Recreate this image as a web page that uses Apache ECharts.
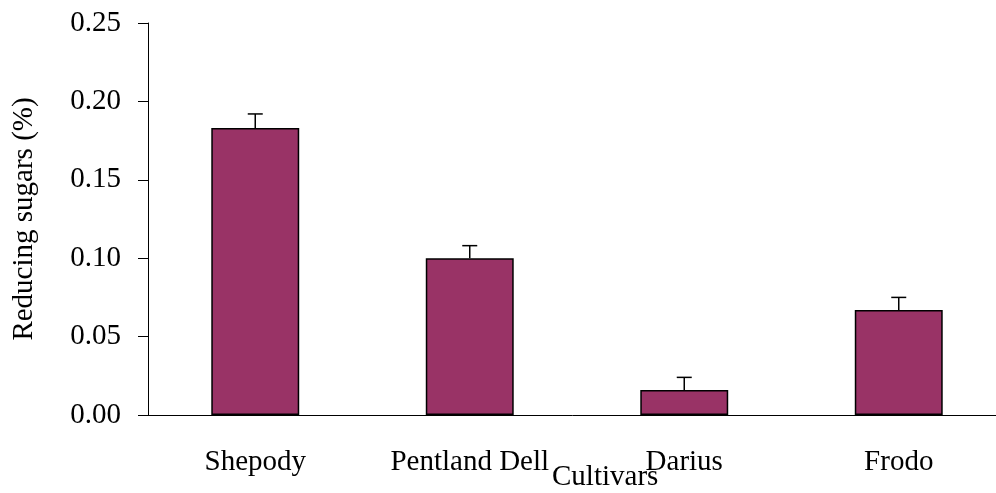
<!DOCTYPE html>
<html>
<head>
<meta charset="utf-8">
<script src="https://cdn.jsdelivr.net/npm/echarts@6/dist/echarts.min.js"></script>
<style>
  html, body { margin: 0; padding: 0; background: #fff; }
  #chart { width: 996px; height: 493px; }
</style>
</head>
<body>
<div id="chart"></div>
<script>
const cultivars = ["Shepody", "Pentland Dell", "Darius", "Frodo"];
const sugars = [0.183, 0.100, 0.016, 0.067];
const sugarsErr = [0.009, 0.008, 0.008, 0.008];
const yTicks = [0, 0.05, 0.10, 0.15, 0.20, 0.25];

const font = "'Liberation Serif', 'Times New Roman', serif";
const myChart = echarts.init(document.getElementById("chart"));

const option = {
  animation: false,
  grid: {
    left: 148,
    top: 23,
    bottom: 78,
    right: -10,
    outerBoundsMode: "none",
    containLabel: false,
  },
  xAxis: {
    type: "category",
    data: cultivars,
    boundaryGap: true,
    axisLine: { lineStyle: { color: "#000", width: 1 } },
    axisTick: { length: 10, lineStyle: { color: "#000" } },
    axisLabel: {
      margin: 33,
      color: "#000",
      fontFamily: font,
      fontSize: 29,
    },
  },
  yAxis: {
    type: "value",
    min: yTicks[0],
    max: yTicks[yTicks.length - 1],
    interval: 0.05,
    name: "Reducing sugars (%)",
    nameLocation: "middle",
    nameRotate: 90,
    nameGap: 109,
    nameTextStyle: { color: "#000", fontFamily: font, fontSize: 29 },
    axisLine: { show: true, lineStyle: { color: "#000", width: 1 } },
    axisTick: { show: true, length: 10, lineStyle: { color: "#000" } },
    splitLine: { show: false },
    axisLabel: {
      margin: 27,
      color: "#000",
      fontFamily: font,
      fontSize: 29,
      formatter: (v) => v.toFixed(2),
    },
  },
  graphic: [
    {
      type: "text",
      left: 552,
      top: 463,
      style: { text: "Cultivars", fill: "#000", font: "29px " + font },
    },
  ],
  series: [
    {
      type: "bar",
      data: sugars,
      barWidth: "41%",
      itemStyle: { color: "#993366", borderColor: "#000", borderWidth: 1.5 },
    },
    {
      type: "custom",
      data: sugars.map((v, i) => [i, v, v + sugarsErr[i]]),
      z: 5,
      renderItem: (params, api) => {
        const base = api.coord([api.value(0), api.value(1)]);
        const top = api.coord([api.value(0), api.value(2)]);
        const half = 7.5;
        const style = { stroke: "#000", lineWidth: 1.5 };
        return {
          type: "group",
          children: [
            { type: "line", shape: { x1: base[0], y1: base[1], x2: top[0], y2: top[1] }, style },
            { type: "line", shape: { x1: top[0] - half, y1: top[1], x2: top[0] + half, y2: top[1] }, style },
          ],
        };
      },
    },
  ],
};

myChart.setOption(option);
</script>
</body>
</html>
